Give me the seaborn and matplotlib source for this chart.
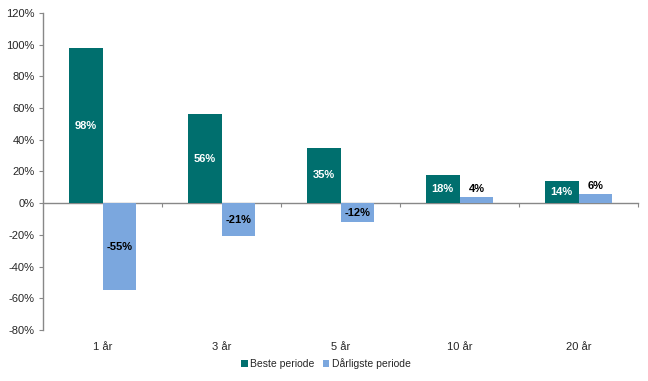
import matplotlib
matplotlib.use("Agg")
import matplotlib.pyplot as plt
import seaborn as sns
import pandas as pd
from matplotlib.patches import Patch

categories = ["1 år", "3 år", "5 år", "10 år", "20 år"]
best = [98, 56, 35, 18, 14]
worst = [-55, -21, -12, 4, 6]
series_names = ["Beste periode", "Dårligste periode"]
colors = ["#006F6E", "#7BA7DE"]

df = pd.DataFrame({
    "Periode": categories * 2,
    "Serie": [series_names[0]] * len(categories) + [series_names[1]] * len(categories),
    "Verdi": best + worst,
})

sns.set_style("white")
plt.rcParams["font.family"] = ["Liberation Sans", "DejaVu Sans"]

fig = plt.figure(figsize=(6.48, 3.81), dpi=100)
ax = fig.add_axes([0.0664, 0.1339, 0.9182, 0.832])

sns.barplot(data=df, x="Periode", y="Verdi", hue="Serie", palette=colors,
            width=0.57, ax=ax, legend=False, saturation=1, linewidth=0,
            edgecolor="none")

ax.set_ylim(-80, 120)
ax.set_xlim(-0.5, len(categories) - 0.5)
ax.set_yticks(range(-80, 121, 20))
ax.set_yticklabels([f"{v}%" for v in range(-80, 121, 20)], fontsize=8)
ax.set_xlabel("")
ax.set_ylabel("")

for s in ["top", "right", "bottom"]:
    ax.spines[s].set_visible(False)
ax.spines["left"].set_color("#888888")
ax.spines["left"].set_linewidth(1)
ax.tick_params(axis="y", left=True, length=3, color="#888888", pad=3)
ax.tick_params(axis="x", bottom=False, labelsize=8, pad=5)

# zero line with boundary ticks
sec = ax.secondary_xaxis(0.4)
sec.set_xticks([i + 0.5 for i in range(len(categories))])
sec.tick_params(length=3, color="#888888", labelbottom=False, direction="out")
sec.spines["bottom"].set_color("#888888")
sec.spines["bottom"].set_linewidth(1)

# labels
containers = ax.containers
for ci, cont in enumerate(containers):
    vals = best if ci == 0 else worst
    for bar, v in zip(cont, vals):
        x = bar.get_x() + bar.get_width() / 2
        if ci == 0:
            ax.text(x, v / 2, f"{v}%", ha="center", va="center", color="white",
                    fontsize=8, fontweight="bold")
        else:
            if v < 0:
                ax.text(x, v / 2, f"{v}%", ha="center", va="center", color="black",
                        fontsize=8, fontweight="bold")
            else:
                ax.text(x, v + 1.5, f"{v}%", ha="center", va="bottom", color="black",
                        fontsize=8, fontweight="bold")

handles = [Patch(facecolor=c, edgecolor="none") for c in colors]
fig.legend(handles, series_names, loc="center", bbox_to_anchor=(0.503, 0.045),
           ncol=2, frameon=False, fontsize=7.5, handlelength=0.6, handleheight=0.6,
           handletextpad=0.25, columnspacing=0.8)

fig.savefig("out.png", dpi=100)
